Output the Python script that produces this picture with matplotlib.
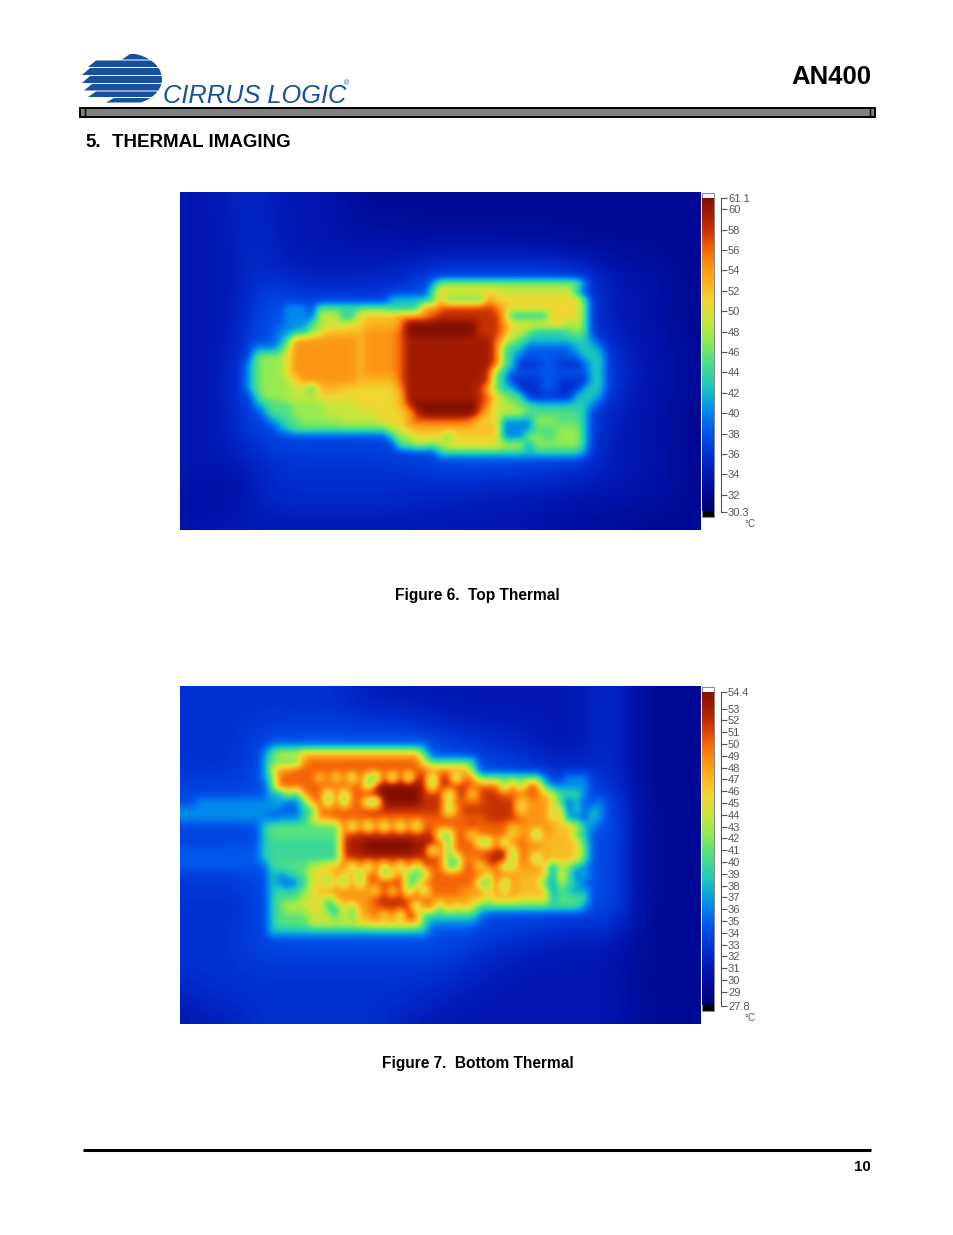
import numpy as np
import matplotlib
matplotlib.use("Agg")
import matplotlib.pyplot as plt
from matplotlib.colors import LinearSegmentedColormap
from matplotlib.patches import Rectangle, Polygon

plt.rcParams["font.family"] = ["Liberation Sans", "DejaVu Sans"]

W, H = 954, 1235

# colour levels, as a fraction of the scale
LEVELS = {"1": .06, "2": .12, "3": .18, "4": .25, "5": .32, "6": .40, "7": .48, "8": .55,
          "9": .61, "a": .67, "b": .72, "c": .78, "d": .84, "e": .90, "f": .95, "g": 1.0,
          "h": .175, "j": .255}
# the bottom board has greener pads and dots
BOTTOM_LEVELS = dict(LEVELS, **{"7": .45, "8": .49})
SCALE_COLORS = [(0, "#00006e"), (.06, "#000a96"), (.12, "#0018b4"), (.18, "#0032d2"), (.25, "#0055eb"),
                (.32, "#008ceb"), (.40, "#1ec8be"), (.48, "#50e182"), (.55, "#96eb50"), (.61, "#c8e63c"),
                (.67, "#f0d732"), (.72, "#fab923"), (.78, "#fc9614"), (.84, "#f56405"), (.90, "#c83200"),
                (.95, "#a51c00"), (1, "#820f00")]

# top thermal, 8 px cells, one run-length coded string per row (level*count)
top_rows = [
    "2*7 3*3 2*10 1*45", "2*7 3*3 2*10 1*45", "2*7 3*3 2*10 1*45",
    "2*8 3*3 2*10 1*44", "2*8 3*3 2*10 1*44",
    "2*8 3*3 2*18 1*36", "2*8 3*3 2*34 1*20", "2*8 3*3 2*38 1*16", "2*8 3*3 2*40 1*14",
    "2*8 3*4 2*18 3*23 2*6 1*6",
    "2*9 3*3 2*17 3*1 4*22 3*2 2*6 1*5",
    "2*9 4*3 3*19 5*1 8*18 5*1 3*1 2*8 1*5",
    "2*9 4*3 3*16 4*3 7*1 a*8 9*9 6*1 3*2 2*8 1*5",
    "2*9 4*3 3*14 6*6 b*1 7*5 c*1 a*11 7*1 3*1 2*8 1*5",
    "2*9 4*4 5*3 4*1 7*9 6*4 c*2 d*1 e*6 d*1 b*1 a*9 7*1 3*1 2*8 1*5",
    "2*9 4*4 5*3 4*1 9*3 6*2 a*1 b*4 c*4 d*1 e*8 b*1 6*5 a*4 7*1 3*1 2*8 1*5",
    "2*8 3*1 4*4 5*3 7*1 8*1 9*3 a*2 b*4 c*1 g*9 e*3 c*1 a*7 8*1 9*1 7*1 3*1 2*8 1*5",
    "2*8 3*1 4*3 5*2 6*2 8*1 9*1 b*5 c*4 d*1 g*9 e*3 c*1 9*2 7*1 6*4 7*1 8*1 7*1 3*1 2*8 1*5",
    "2*8 3*1 4*3 5*1 7*1 c*8 b*1 c*4 d*1 f*11 d*1 a*1 8*1 7*1 6*8 5*1 3*1 2*7 1*5",
    "2*8 4*1 5*3 6*1 9*1 c*8 b*1 c*4 d*1 f*11 d*1 7*1 6*2 j*6 6*3 5*1 3*1 2*7 1*4",
    "2*8 4*1 7*1 8*3 a*1 c*8 b*1 c*4 d*1 f*11 d*1 7*1 6*1 j*8 6*3 4*1 3*1 2*7 1*3",
    "2*7 3*1 5*1 7*1 8*3 a*1 c*8 b*1 c*4 d*1 f*11 d*1 7*1 6*1 h*3 j*2 h*3 j*1 6*2 4*1 3*1 2*7 1*3",
    "2*7 3*1 5*1 7*1 8*3 a*1 c*8 b*1 c*4 d*1 f*10 e*1 7*1 6*1 j*10 6*2 4*1 3*1 2*7 1*3",
    "2*7 3*1 5*1 7*1 8*3 9*1 a*1 c*7 b*5 d*1 f*10 e*1 7*1 6*1 h*4 j*2 h*4 6*2 4*1 3*1 2*7 1*3",
    "2*7 3*1 5*1 7*1 8*4 9*2 6*1 b*3 a*7 c*1 f*9 e*1 b*1 7*1 6*2 h*3 j*2 h*3 6*3 4*1 3*1 2*7 1*3",
    "2*7 3*1 4*1 6*1 8*3 9*4 a*10 b*1 f*9 e*1 d*1 a*1 8*1 7*2 h*6 6*3 5*1 3*1 2*7 1*4",
    "2*7 3*1 4*1 5*1 6*1 7*3 8*4 9*4 a*5 b*1 e*1 g*8 e*1 c*1 9*2 8*1 7*2 6*7 5*1 3*1 2*7 1*5",
    "2*7 3*1 4*2 5*1 7*3 8*4 9*6 a*4 b*1 e*1 g*7 d*1 b*1 9*4 7*7 6*1 4*1 3*1 2*7 1*5",
    "2*7 3*2 4*2 5*1 6*1 7*2 8*5 9*5 a*3 c*1 d*7 c*1 a*3 5*4 8*3 7*3 6*1 3*2 2*7 1*5",
    "2*7 3*3 4*2 5*1 6*1 7*12 9*2 b*12 5*4 7*3 8*3 6*1 3*1 2*8 1*5",
    "2*7 3*5 4*14 6*1 8*2 a*4 7*1 a*6 5*3 8*2 7*2 8*3 6*1 3*1 2*8 1*5",
    "2*7 3*20 7*2 8*2 7*1 8*1 a*7 9*3 5*1 8*6 6*1 3*1 2*8 1*5",
    "2*7 3*25 6*18 5*1 3*1 2*8 1*5",
    "2*6 3*26 4*19 3*3 2*7 1*4",
    "2*7 1*2 2*2 3*30 3*8 2*11 1*5",
    "2*5 1*3 2*3 3*35 2*15 1*4",
    "2*4 1*3 2*3 3*30 2*21 1*4",
    "2*2 1*4 2*4 3*25 2*25 1*5",
    "1*5 2*4 3*20 2*28 1*8",
    "1*3 2*50 1*12",
    "2*50 1*15",
    "2*45 1*20",
]

# bottom thermal, same coding
bottom_rows = [
    "3*22 2*30 3*4 1*9", "3*22 2*30 3*4 1*9", "3*22 2*30 3*4 1*9",
    "3*30 2*22 3*4 1*9", "3*30 2*22 3*4 1*9", "3*36 2*16 3*4 1*9",
    "3*10 4*22 3*12 2*8 3*4 1*9",
    "3*9 4*2 5*20 4*3 3*10 2*8 3*4 1*9",
    "3*10 5*1 8*1 9*3 b*15 7*1 4*5 3*8 2*8 3*4 1*9",
    "3*10 5*1 8*1 8*3 c*1 d*14 9*1 7*6 4*1 3*6 2*8 3*4 1*9",
    "3*10 5*1 9*1 c*2 d*17 c*5 8*1 4*3 3*4 2*8 3*4 1*9",
    "3*10 5*1 8*1 d*5 a*1 d*1 9*1 d*1 8*1 e*1 8*1 7*1 e*1 7*1 e*1 7*1 e*2 8*1 e*2 7*1 d*1 c*1 8*8 5*1 4*2 5*3 3*5 1*9",
    "3*10 4*1 8*1 d*11 8*1 e*1 g*5 e*1 8*1 e*4 d*4 8*1 d*1 8*1 d*2 7*1 5*5 3*5 1*9",
    "4*11 6*1 5*1 9*1 6*1 c*1 d*2 8*1 d*1 8*1 d*2 f*2 g*5 e*3 8*1 d*1 e*1 9*1 e*3 d*5 b*1 9*1 7*3 5*1 4*1 3*4 1*9",
    "4*2 5*9 5*1 6*1 3*1 5*1 7*1 c*1 d*1 8*1 d*1 8*1 d*2 7*2 g*5 e*3 9*1 d*4 e*4 9*1 c*3 a*1 7*1 4*1 6*1 4*2 5*1 4*3 1*9",
    "5*12 4*3 7*1 6*1 d*6 e*7 e*3 8*1 c*1 e*7 9*1 c*3 9*1 a*1 4*1 7*1 4*1 6*1 5*1 4*3 1*9",
    "5*11 4*1 5*3 6*1 9*1 c*2 d*19 e*4 d*1 c*3 9*1 b*1 5*2 4*1 6*1 5*1 4*3 1*9",
    "3*10 6*1 8*9 d*1 8*1 d*1 8*1 d*1 8*1 d*1 8*1 d*1 8*1 d*6 e*1 d*4 b*1 c*5 a*1 b*1 9*1 6*1 5*1 3*1 4*3 1*9",
    "3*10 6*1 8*9 d*1 e*11 8*2 d*2 9*1 d*4 9*1 c*2 7*1 c*1 b*3 8*1 6*1 4*1 3*1 4*3 1*9",
    "3*10 6*1 7*9 e*1 f*2 g*6 f*3 d*1 8*1 d*3 8*2 d*1 8*1 d*2 c*2 b*4 a*1 7*1 4*1 3*1 4*3 1*9",
    "j*10 6*1 7*9 e*1 f*2 g*6 f*2 8*1 d*1 8*1 d*3 d*2 e*2 8*1 d*1 c*2 b*4 a*1 8*1 4*1 3*1 4*3 1*9",
    "j*10 6*1 7*9 d*1 e*11 d*1 8*2 d*1 c*1 d*1 e*1 f*2 8*1 d*1 c*1 7*1 c*1 b*3 a*1 8*1 4*1 3*1 4*3 1*9",
    "j*11 7*1 8*4 9*2 b*2 d*1 8*1 d*1 8*1 d*1 8*1 d*1 8*1 d*1 8*1 d*3 8*2 d*2 9*1 d*2 8*1 9*1 c*3 a*1 5*1 9*1 8*1 6*1 5*1 4*1 3*1 4*3 1*9",
    "3*10 4*1 6*1 5*1 6*1 7*1 8*1 9*1 b*1 9*1 c*1 9*1 c*1 8*1 d*2 8*1 9*1 d*1 8*3 d*5 d*2 9*1 d*2 c*1 b*4 5*1 a*1 8*1 4*1 6*1 4*1 3*1 4*3 1*9",
    "3*10 4*1 6*1 5*1 4*1 5*1 7*1 9*1 a*1 8*1 b*1 8*1 c*1 8*1 d*2 e*3 8*2 d*6 d*1 8*2 d*1 7*1 c*1 b*3 7*1 5*1 9*1 7*1 6*1 4*2 3*1 4*3 1*9",
    "3*10 4*1 6*1 7*1 6*1 7*1 8*1 a*1 b*1 c*2 c*4 9*1 e*1 9*1 e*1 8*1 d*1 8*1 d*4 c*3 9*1 c*1 9*1 c*1 b*4 5*1 8*1 6*1 5*1 6*1 4*1 3*1 4*3 1*9",
    "3*10 4*1 6*1 8*3 9*2 a*1 8*1 b*1 c*4 e*4 d*3 c*5 b*2 9*1 b*3 a*4 6*1 8*3 7*1 4*1 3*1 4*3 1*9",
    "3*11 6*1 8*1 9*3 a*2 6*1 7*1 b*1 8*1 c*2 d*1 e*4 7*1 d*1 c*1 8*1 c*1 9*1 b*1 9*1 7*13 5*1 3*1 4*4 1*9",
    "3*11 6*1 8*4 9*3 6*1 a*1 7*1 b*1 c*1 d*1 9*1 d*1 8*1 f*1 d*1 7*7 5*1 4*10 3*4 4*4 1*9",
    "3*10 4*1 6*1 8*4 9*6 a*2 b*6 7*1 5*6 4*2 3*13 3*4 1*9",
    "3*10 4*1 6*20 4*6 3*19 1*9",
    "3*9 4*25 3*10 2*12 1*9",
    "3*8 4*26 3*10 2*12 1*9",
    "3*40 2*16 1*9",
    "3*38 2*18 1*9", "3*38 2*18 1*9",
    "3*35 2*20 1*10", "3*35 2*20 1*10",
    "2*3 3*28 2*25 1*9", "2*3 3*28 2*25 1*9",
    "2*5 3*24 2*27 1*9",
    "2*8 3*18 2*30 1*9",
]

top_ticks = [60, 58, 56, 54, 52, 50, 48, 46, 44, 42, 40, 38, 36, 34, 32]
top_range = (30.3, 61.1)
bottom_ticks = list(range(53, 28, -1))
bottom_range = (27.8, 54.4)

# logo stripes: top, bottom, left end
logo_stripes = [(54, 59.5, 122), (60.5, 67, 88), (68, 75, 82), (76, 83, 82), (84, 90.5, 84), (91.5, 97, 88), (98, 102.5, 106)]


def box(x0, y0, x1, y1):
    return [x0 / W, 1 - y1 / H, (x1 - x0) / W, (y1 - y0) / H]


def unpack(rows, levels):
    grid = []
    for row in rows:
        cells = []
        for part in row.split():
            cells += [levels[part[0]]] * int(part[2:])
        grid.append((cells + cells[-1:] * 65)[:65])
    return np.array(grid)


def soften(grid):
    # the cold background has no hard steps, only the board has
    flat = np.pad(np.minimum(grid, .27), 6, mode="edge")
    kernel = np.ones(5) / 5
    for _ in range(2):
        flat = np.apply_along_axis(lambda v: np.convolve(v, kernel, mode="same"), 0, flat)
        flat = np.apply_along_axis(lambda v: np.convolve(v, kernel, mode="same"), 1, flat)
    flat = flat[6:-6, 6:-6]
    out = grid.copy()
    mask = (grid <= .25) & (grid != LEVELS["h"])
    out[mask] = flat[mask]
    return out


def thermal(fig, rows, levels, y0, ticks, lo, hi, cmap):
    ax = fig.add_axes(box(180, y0, 701, y0 + 338))
    ax.imshow(soften(unpack(rows, levels)), cmap=cmap, vmin=0, vmax=1, aspect="auto",
              interpolation="bicubic", interpolation_stage="data")
    ax.axis("off")

    # colour bar with its white and black end cells
    bar = fig.add_axes(box(702, y0 + 6, 714, y0 + 319))
    bar.imshow(np.linspace(1, 0, 256).reshape(-1, 1), cmap=cmap, vmin=0, vmax=1, aspect="auto")
    bar.axis("off")
    page.add_patch(Rectangle((702, y0 + 1), 12, 5, fc="white", ec="none"))
    page.add_patch(Rectangle((702, y0 + 319), 12, 6, fc="black", ec="none"))
    page.add_patch(Rectangle((702, y0 + 1), 12, 324, fc="none", ec="#8a8a8a", lw=0.8))

    scale = fig.add_axes(box(721, y0 + 6, 721, y0 + 320))
    scale.set_ylim(lo, hi)
    scale.set_xticks([])
    for s in ["top", "bottom", "right"]:
        scale.spines[s].set_visible(False)
    scale.spines["left"].set_color("#555555")
    scale.spines["left"].set_linewidth(0.8)
    scale.yaxis.tick_right()
    scale.set_yticks([lo] + ticks + [hi], [f"{lo:g}"] + [str(t) for t in ticks] + [f"{hi:g}"])
    scale.tick_params(axis="y", length=4.5, width=0.8, color="#555555", labelcolor="#555555",
                      labelsize=8, pad=0.5)
    page.text(750, y0 + 332, "°C", fontsize=7, color="#555555", ha="center", va="center")


fig = plt.figure(figsize=(W / 100, H / 100), dpi=100, facecolor="white")
page = fig.add_axes([0, 0, 1, 1])
page.set_xlim(0, W)
page.set_ylim(H, 0)
page.axis("off")

thermo = LinearSegmentedColormap.from_list("thermo", SCALE_COLORS)
thermal(fig, top_rows, LEVELS, 192, top_ticks, top_range[0], top_range[1], thermo)
thermal(fig, bottom_rows, BOTTOM_LEVELS, 686, bottom_ticks, bottom_range[0], bottom_range[1], thermo)

# logo
blue = "#17509e"
for top, bot, left in logo_stripes:
    ys = np.linspace(top, bot, 8)
    right = 125 + 37 * np.sqrt(np.clip(1 - ((ys - 79) / 26) ** 2, 0, 1))
    pts = [(left + 8, top)] + list(zip(right, ys)) + [(left, bot)]
    page.add_patch(Polygon(pts, fc=blue, ec="none"))
page.text(163, 103, "CIRRUS LOGIC", style="italic", fontsize=18.3, color=blue, ha="left", va="baseline")
page.text(347, 84, "®", fontsize=5, color=blue, ha="center", va="center")

# header bar
page.add_patch(Rectangle((80, 108), 795, 9, fc="#808080", ec="black", lw=1.4))
page.plot([85, 85], [108, 117], color="black", lw=1)
page.plot([870, 870], [108, 117], color="black", lw=1)

page.text(871, 84, "AN400", fontsize=18.5, fontweight="bold", ha="right", va="baseline")
page.text(85, 147, "5.", fontsize=13.5, fontweight="bold", ha="left", va="baseline")
page.text(112, 147, "THERMAL IMAGING", fontsize=13.5, fontweight="bold", ha="left", va="baseline")
page.text(477.5, 600, "Figure 6.  Top Thermal", fontsize=11.2, fontweight="bold", ha="center", va="baseline")
page.text(477.5, 1068, "Figure 7.  Bottom Thermal", fontsize=11.2, fontweight="bold", ha="center", va="baseline")

page.plot([83, 871], [1150, 1150], color="black", lw=2.2, solid_capstyle="butt")
page.text(871, 1171, "10", fontsize=10.8, fontweight="bold", ha="right", va="baseline")

fig.savefig("out.png", dpi=100, facecolor="white")
